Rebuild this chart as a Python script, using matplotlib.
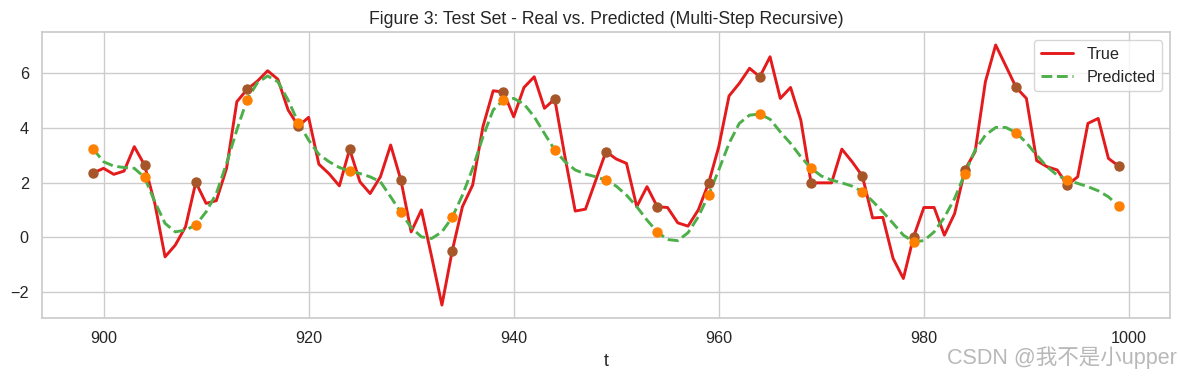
import matplotlib

matplotlib.use("Agg")

import matplotlib.pyplot as plt
import numpy as np
import seaborn as sns

t = np.arange(899, 1000)

y_true = [
    2.35, 2.52, 2.30, 2.42, 3.31, 2.64, 1.24, -0.71, -0.28, 0.39,
    2.01, 1.24, 1.34, 2.52, 4.95, 5.40, 5.70, 6.08, 5.77, 4.65,
    4.06, 4.38, 2.67, 2.32, 1.88, 3.22, 2.03, 1.60, 2.21, 3.37,
    2.09, 0.20, 1.00, -0.71, -2.47, -0.50, 1.12, 1.91, 4.04, 5.35,
    5.30, 4.40, 5.47, 5.86, 4.71, 5.05, 2.94, 0.96, 1.03, 2.08,
    3.13, 2.86, 2.70, 1.12, 1.85, 1.12, 1.09, 0.53, 0.41, 1.00,
    1.97, 3.31, 5.16, 5.62, 6.17, 5.86, 6.59, 5.07, 5.47, 4.28,
    1.99, 1.99, 1.99, 3.22, 2.76, 2.24, 0.71, 0.73, -0.77, -1.50,
    0.02, 1.09, 1.09, 0.08, 0.87, 2.46, 3.13, 5.68, 7.02, 6.25,
    5.47, 5.07, 2.80, 2.58, 2.46, 1.91, 2.21, 4.16, 4.34, 2.88,
    2.60,
]

y_pred = [
    3.22, 2.76, 2.60, 2.55, 2.52, 2.19, 1.30, 0.51, 0.20, 0.27,
    0.45, 0.93, 1.60, 2.70, 3.92, 5.03, 5.64, 5.89, 5.68, 5.01,
    4.18, 3.55, 3.03, 2.76, 2.55, 2.42, 2.33, 2.21, 2.03, 1.48,
    0.91, 0.36, 0.02, -0.04, 0.20, 0.73, 1.54, 2.52, 3.67, 4.65,
    5.01, 5.07, 4.87, 4.40, 3.79, 3.19, 2.76, 2.46, 2.31, 2.21,
    2.09, 1.87, 1.54, 1.12, 0.63, 0.20, -0.08, -0.12, 0.17, 0.75,
    1.54, 2.46, 3.43, 4.16, 4.46, 4.50, 4.31, 3.85, 3.43, 2.94,
    2.52, 2.24, 2.09, 1.99, 1.87, 1.67, 1.32, 0.93, 0.51, 0.08,
    -0.16, -0.12, 0.20, 0.73, 1.42, 2.33, 3.19, 3.73, 4.01, 4.01,
    3.82, 3.45, 3.00, 2.58, 2.27, 2.09, 1.97, 1.85, 1.70, 1.48,
    1.14,
]

sns.set_theme(style="whitegrid")
plt.rcParams["font.family"] = ["Liberation Sans", "DejaVu Sans"]

y_true = np.array(y_true)
y_pred = np.array(y_pred)
marks = slice(0, None, 5)

fig = plt.figure(figsize=(11.8, 3.8), dpi=100)
ax = fig.add_axes([0.0356, 0.163, 0.9559, 0.7528])

ax.plot(t, y_true, color="#e41a1c", linewidth=2.1, label="True")
ax.plot(t, y_pred, color="#4daf4a", linewidth=2.1, linestyle="--", label="Predicted")
ax.scatter(t[marks], y_true[marks], color="#a65628", s=42, zorder=3)
ax.scatter(t[marks], y_pred[marks], color="#ff7f00", s=42, zorder=3)

ax.set_title("Figure 3: Test Set - Real vs. Predicted (Multi-Step Recursive)", fontsize=12.7)
ax.set_xlabel("t", fontsize=12.7, labelpad=5)
ax.tick_params(labelsize=11.7)
ax.legend(loc="upper right", fontsize=11.7)

fig.text(
    0.997, 0.06, "CSDN @我不是小upper",
    ha="right", va="center", fontsize=15.5, color="#b8b8b8",
    family=["Liberation Sans", "Noto Sans CJK SC"],
)

fig.savefig("out.png", dpi=100)
